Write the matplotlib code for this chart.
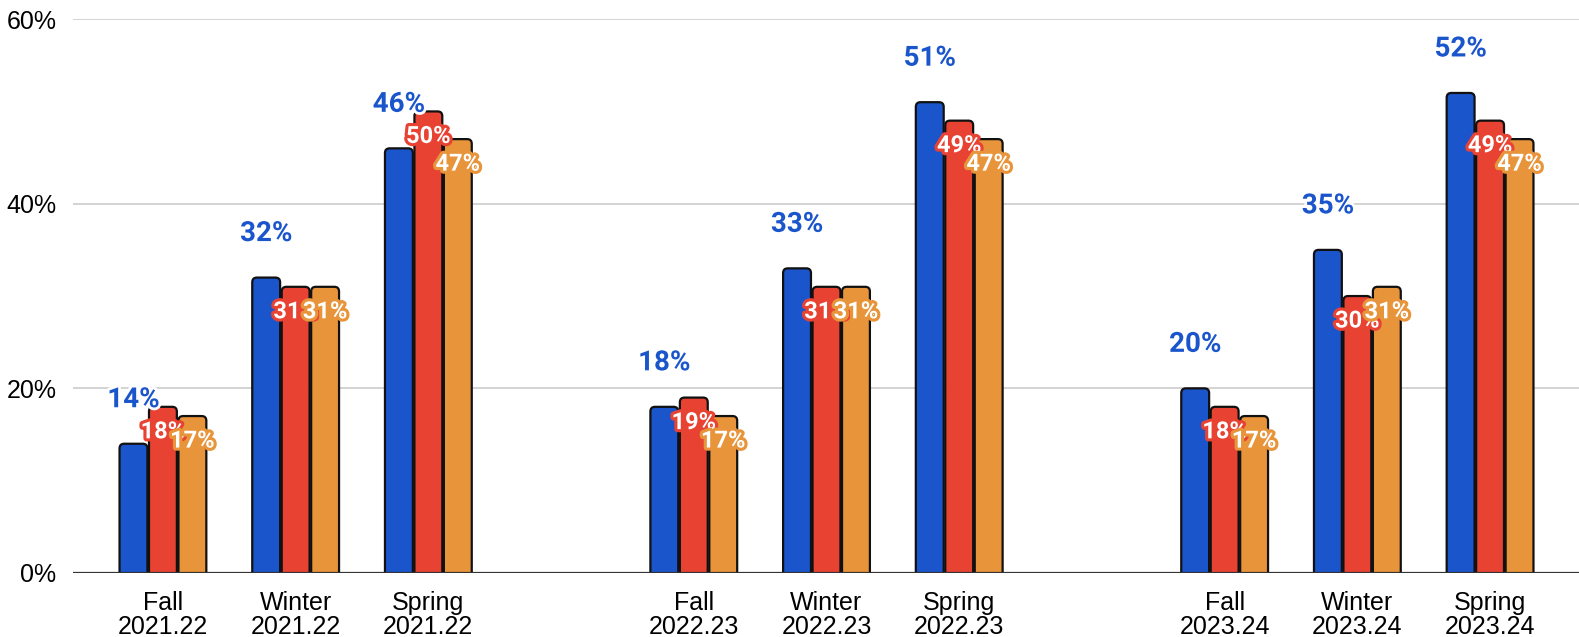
import numpy as np
import matplotlib
matplotlib.use("Agg")
import matplotlib.pyplot as plt
import matplotlib.patheffects as pe
from matplotlib.patches import FancyBboxPatch

# Chart data
categories = ["Fall\n2021.22", "Winter\n2021.22", "Spring\n2021.22",
              "Fall\n2022.23", "Winter\n2022.23", "Spring\n2022.23",
              "Fall\n2023.24", "Winter\n2023.24", "Spring\n2023.24"]
positions = [0, 1, 2, 4, 5, 6, 8, 9, 10]
blueValues = [14, 32, 46, 18, 33, 51, 20, 35, 52]
redValues = [18, 31, 50, 19, 31, 49, 18, 30, 49]
orangeValues = [17, 31, 47, 17, 31, 47, 17, 31, 47]
yTicks = [0, 20, 40, 60]

blue = "#1a55cc"
red = "#e84233"
orange = "#e8943a"

fig = plt.figure(figsize=(15.79, 6.37), dpi=100)
ax = fig.add_axes([0.0462, 0.1005, 0.9538, 0.8695])

barWidth = 0.21
step = 0.222
x = np.array(positions, dtype=float)

series = [(blueValues, blue, -step), (redValues, red, 0.0), (orangeValues, orange, step)]

# px per data unit, used to keep rounded corners circular
pxPerX = 132.7
pxPerY = 9.23
aspect = pxPerX / pxPerY

for values, color, offset in series:
    bars = ax.bar(x + offset, values, width=barWidth, color=color)
    for rect in bars:
        bx, by = rect.get_x(), rect.get_y()
        bw, bh = rect.get_width(), rect.get_height()
        rect.remove()
        box = FancyBboxPatch((bx, by - 1), bw, bh + 1,
                             boxstyle="round,pad=0,rounding_size=0.035",
                             mutation_aspect=aspect,
                             facecolor=color, edgecolor="#111111", linewidth=1.6,
                             zorder=3)
        ax.add_patch(box)

# Labels above blue bars
for xi, v in zip(x - step, blueValues):
    ax.annotate(f"{v}%", (xi, v), xytext=(0, 44), textcoords="offset pixels",
                ha="center", va="center", fontsize=20, fontweight="bold",
                family="Roboto", color=blue, zorder=5,
                path_effects=[pe.withStroke(linewidth=4, foreground="white")])

# Labels inside top of red / orange bars
for values, color, offset in series[1:]:
    for xi, v in zip(x + offset, values):
        ax.annotate(f"{v}%", (xi, v), xytext=(0, -25), textcoords="offset pixels",
                    ha="center", va="center", fontsize=17, fontweight="bold",
                    family="Roboto", color="white", zorder=6,
                    path_effects=[pe.withStroke(linewidth=4.5, foreground=color)])

ax.set_xlim(-0.678, 10.67)
ax.set_ylim(0, 60)
ax.set_yticks(yTicks)
ax.set_yticklabels([f"{t}%" for t in yTicks], fontsize=18, family="Liberation Sans")
ax.set_xticks(x)
ax.set_xticklabels(categories, fontsize=18, family="Liberation Sans", linespacing=1.0)
ax.tick_params(axis="y", length=0, pad=12)
ax.tick_params(axis="x", length=0, pad=13)

for spine in ax.spines.values():
    spine.set_visible(False)
ax.grid(axis="y", color="#cccccc", linewidth=1.2, zorder=0)
ax.set_axisbelow(True)
ax.axhline(0, color="#333333", linewidth=1.6, zorder=4)

fig.savefig("out.png", dpi=100)
